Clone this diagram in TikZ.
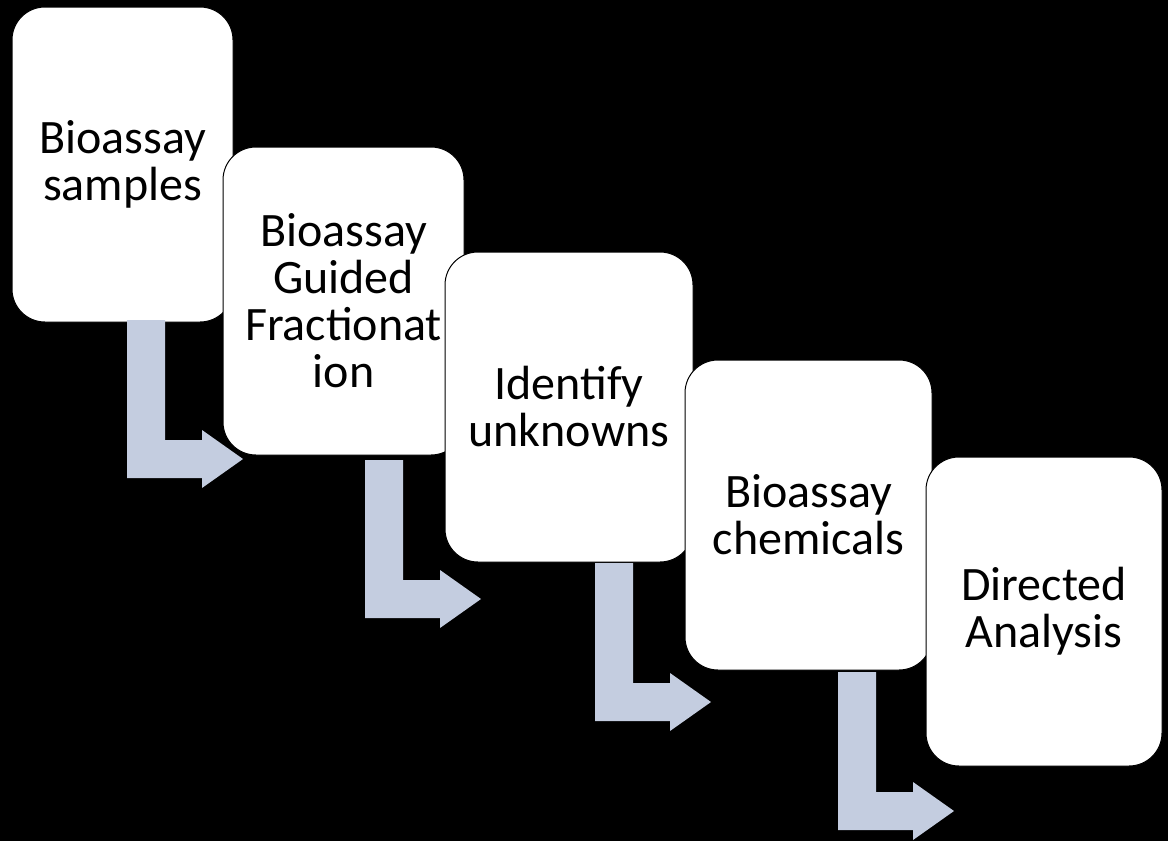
\documentclass[tikz,border=0pt]{standalone}
\usepackage{fontspec}
\setmainfont{Carlito}
\definecolor{arrowfill}{RGB}{196,205,224}
\tikzset{
  stepbox/.style={draw=black, line width=1pt, fill=white, rounded corners=33pt,
    align=center, inner sep=0pt, font=\fontsize{48}{47}\selectfont},
  bentarrow/.pic={
    \fill[arrowfill] (0,0) -- (38,0) -- (38,120) -- (75,120) -- (75,110)
      -- (116,139) -- (75,168) -- (75,158) -- (0,158) -- cycle;
  }
}
\begin{document}
\begin{tikzpicture}[x=1pt,y=-1pt]
\fill[black] (0,0) rectangle (1168,841);
\useasboundingbox (0,0) rectangle (1168,841);
\node[stepbox, minimum width=221pt, minimum height=315pt] (b1) at (122.5,164.5) {Bioassay\\samples\hspace*{0pt}};
\coordinate (a1) at (127,320);
\pic at (a1) {bentarrow};
\node[stepbox, minimum width=241pt, minimum height=308pt] (b2) at (343.5,301) {Bioassay\\Guided\\Fractionat\\ion};
\coordinate (a2) at (365,460);
\pic at (a2) {bentarrow};
\node[stepbox, minimum width=248pt, minimum height=310pt] (b3) at (569,407) {Identify\\unknowns};
\coordinate (a3) at (595,563);
\pic at (a3) {bentarrow};
\node[stepbox, minimum width=247pt, minimum height=310pt] (b4) at (808.5,515) {Bioassay\\chemicals};
\coordinate (a4) at (838,672);
\pic at (a4) {bentarrow};
\node[stepbox, minimum width=236pt, minimum height=309pt] (b5) at (1044,611.5) {Directed\\Analysis};
\end{tikzpicture}
\end{document}
